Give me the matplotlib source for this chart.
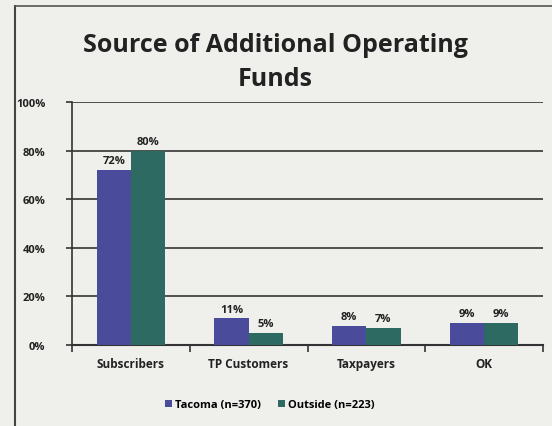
import matplotlib
matplotlib.use("Agg")
import matplotlib.pyplot as plt
import numpy as np
from matplotlib.lines import Line2D

categories = ["Subscribers", "TP Customers", "Taxpayers", "OK"]
tacoma = [72, 11, 8, 9]
outside = [80, 5, 7, 9]
series_names = ["Tacoma (n=370)", "Outside (n=223)"]
yticks = [0, 20, 40, 60, 80, 100]

plt.rcParams["font.family"] = ["Open Sans", "DejaVu Sans"]

bg = "#efefec"
c_tac = "#4b4b9c"
c_out = "#2d6b62"

fig = plt.figure(figsize=(5.52, 4.27), dpi=100, facecolor=bg)
ax = fig.add_axes([72 / 552, 1 - 346 / 427, 471 / 552, 243 / 427])
ax.set_facecolor(bg)

x = np.arange(len(categories))
w = 0.29
b1 = ax.bar(x - w / 2, tacoma, w, color=c_tac, label=series_names[0], zorder=3)
b2 = ax.bar(x + w / 2, outside, w, color=c_out, label=series_names[1], zorder=3)

for bars, vals in ((b1, tacoma), (b2, outside)):
    for r, v in zip(bars, vals):
        ax.text(r.get_x() + r.get_width() / 2, v + 1.5, f"{v}%", ha="center",
                va="bottom", fontsize=8, fontweight="bold", color="#222222", zorder=4)

ax.set_xlim(-0.5, len(categories) - 0.5)
ax.set_ylim(0, 100)
ax.set_yticks(yticks)
ax.set_yticklabels([f"{t}%" for t in yticks], fontsize=8, fontweight="bold", color="#222222")
ax.yaxis.grid(True, color="#333333", linewidth=1.2, zorder=1)
ax.set_xticks(x)
ax.set_xticklabels(categories, fontsize=8.5, fontweight="bold", color="#222222")
ax.tick_params(axis="x", length=0, pad=9)
ax.tick_params(axis="y", length=4, width=1.2, color="#333333", pad=15)
ax.set_xticks(np.arange(-0.5, len(categories)), minor=True)
ax.tick_params(axis="x", which="minor", length=5, width=1.2, color="#333333")

for s in ("top", "right"):
    ax.spines[s].set_visible(False)
ax.spines["left"].set_color("#333333")
ax.spines["left"].set_linewidth(1.2)
ax.spines["bottom"].set_color("#333333")
ax.spines["bottom"].set_linewidth(1.5)

fig.text(275 / 552, 1 - 45 / 427, "Source of Additional Operating", ha="center", va="center",
         fontsize=18, fontweight="bold", color="#222222")
fig.text(275 / 552, 1 - 80 / 427, "Funds", ha="center", va="center",
         fontsize=18, fontweight="bold", color="#222222")

ax.legend(loc="center", bbox_to_anchor=(270 / 552, 1 - 406 / 427), bbox_transform=fig.transFigure,
          ncol=2, frameon=False, handlelength=0.6, handleheight=0.6,
          handletextpad=0.3, columnspacing=1.5, prop={"weight": "bold", "size": 8})

# page frame
fig.add_artist(Line2D([15 / 552, 15 / 552], [0, 1 - 7 / 427], transform=fig.transFigure,
                      color="#444444", linewidth=1.5))
fig.add_artist(Line2D([15 / 552, 1], [1 - 7 / 427, 1 - 7 / 427], transform=fig.transFigure,
                      color="#555555", linewidth=1.2))

fig.savefig("out.png", dpi=100, facecolor=bg)
